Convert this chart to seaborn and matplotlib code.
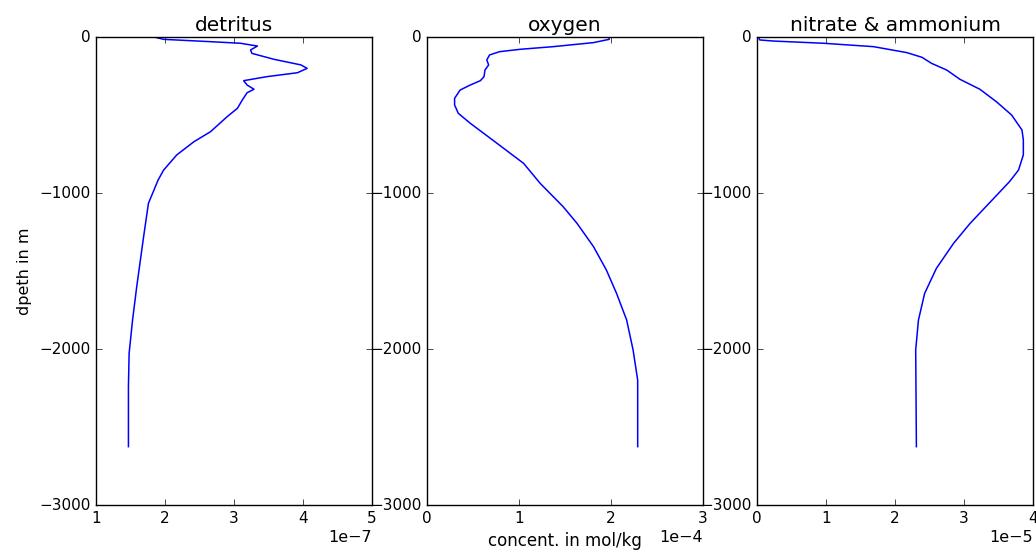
import numpy as np
import pandas as pd
import matplotlib
matplotlib.use('Agg')
import matplotlib.pyplot as plt
import seaborn as sns

# depth profiles (depth in m, negative downwards)
det_depth = [-2, -15, -30, -40, -58, -83, -105, -143, -179, -201, -229, -254, -280, -308,
             -335, -357, -404, -457, -511, -607, -671, -756, -853, -917, -1066, -1280,
             -1601, -1814, -2028, -2242, -2626]
det_value = [1.86, 1.98, 2.66, 3.09, 3.34, 3.24, 3.26, 3.58, 3.97, 4.06, 3.92, 3.48, 3.14, 3.19,
             3.29, 3.19, 3.12, 3.05, 2.90, 2.66, 2.42, 2.17, 1.98, 1.90, 1.76, 1.69,
             1.59, 1.53, 1.48, 1.47, 1.47]

oxy_depth = [-3, -15, -36, -62, -79, -94, -115, -147, -179, -212, -254, -280, -308, -340,
             -393, -436, -489, -553, -681, -810, -938, -1088, -1194, -1344, -1494, -1643,
             -1814, -2006, -2199, -2626]
oxy_value = [1.98, 1.98, 1.81, 1.37, 1.01, 0.79, 0.68, 0.65, 0.67, 0.63, 0.62, 0.58, 0.47, 0.36,
             0.30, 0.30, 0.34, 0.47, 0.76, 1.05, 1.23, 1.48, 1.63, 1.81, 1.95, 2.06,
             2.17, 2.24, 2.29, 2.29]

nit_depth = [0, -19, -26, -40, -62, -100, -130, -169, -212, -271, -335, -415, -500, -596,
             -660, -756, -853, -927, -1194, -1322, -1483, -1643, -1814, -2006, -2626]
nit_value = [0.02, 0.04, 0.24, 0.96, 1.69, 2.17, 2.39, 2.53, 2.75, 2.94, 3.23, 3.47, 3.69, 3.84,
             3.86, 3.86, 3.79, 3.66, 3.09, 2.85, 2.60, 2.43, 2.34, 2.30, 2.31]

titles = ['detritus', 'oxygen', 'nitrate & ammonium']
scales = [1e-7, 1e-4, 1e-5]
xlims = [(1, 5), (0, 3), (0, 4)]
y_ticks = [0, -1000, -2000, -3000]

plt.style.use('classic')
plt.rcParams['font.family'] = ['DejaVu Sans']
plt.rcParams['font.size'] = 11

fig = plt.figure(figsize=(10.36, 5.52), dpi=100, facecolor='white')
lefts = [96 / 1036, 427 / 1036, 757 / 1036]
w = 276 / 1036
b = 47 / 552
h = 468 / 552

profiles = [(det_value, det_depth), (oxy_value, oxy_depth), (nit_value, nit_depth)]
for i, (vals, dep) in enumerate(profiles):
    ax = fig.add_axes([lefts[i], b, w, h])
    df = pd.DataFrame({'conc': np.array(vals) * scales[i], 'depth': dep})
    sns.lineplot(data=df, x='conc', y='depth', sort=False, estimator=None,
                 color='b', linewidth=1.1, ax=ax)
    lo, hi = xlims[i]
    ax.set_xlim(lo * scales[i], hi * scales[i])
    ax.set_xticks(np.arange(lo, hi + 1) * scales[i])
    ax.ticklabel_format(axis='x', style='sci', scilimits=(0, 0))
    ax.set_ylim(-3000, 0)
    ax.set_yticks(y_ticks)
    ax.set_title(titles[i], fontsize=14.5, pad=4)
    ax.set_xlabel('')
    ax.set_ylabel('')
    ax.tick_params(labelsize=11)
    ax.xaxis.get_offset_text().set_fontsize(11.5)
    ax.set_facecolor('white')
    if i == 0:
        ax.set_ylabel('dpeth in m', fontsize=11.5)
    if i == 1:
        ax.set_xlabel('concent. in mol/kg', fontsize=12)

fig.savefig('out.png', dpi=100, facecolor='white')
